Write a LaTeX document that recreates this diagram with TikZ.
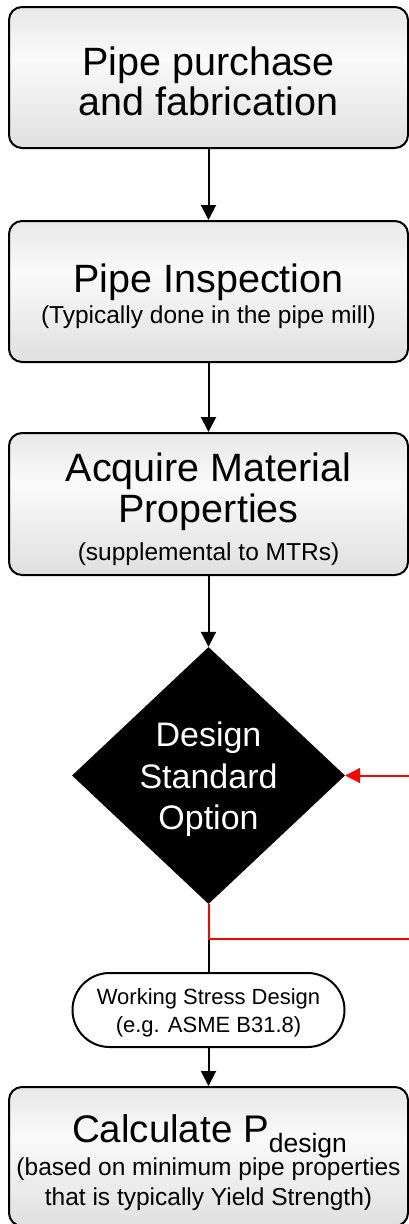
\documentclass[tikz,border=0pt]{standalone}
\usepackage{fontspec}
\setmainfont{Liberation Sans}
\usetikzlibrary{shapes.geometric,shapes.misc,arrows.meta}
\definecolor{boxtop}{HTML}{E8E8E8}
\definecolor{boxmid}{HTML}{FAFAFA}
\definecolor{boxbot}{HTML}{E0E0E0}
\definecolor{redline}{HTML}{FF0000}
\pgfdeclareverticalshading{boxshade}{100bp}{color(0bp)=(boxbot); color(25bp)=(boxbot); color(57bp)=(boxmid); color(75bp)=(boxtop); color(100bp)=(boxtop)}
\begin{document}
\begin{tikzpicture}[x=1pt,y=-1pt,
  box/.style={draw=black, line width=2pt, rounded corners=13pt,
    shading=boxshade,
    minimum width=399pt, inner sep=0pt},
  bigtxt/.style={anchor=base, inner sep=0pt, font=\fontsize{39.5}{40}\selectfont},
  subtxt/.style={anchor=base, inner sep=0pt, font=\fontsize{24.5}{26}\selectfont},
  dtxt/.style={anchor=base, inner sep=0pt, text=white, font=\fontsize{34}{36}\selectfont},
  stxt/.style={anchor=base, inner sep=0pt, font=\fontsize{22}{24}\selectfont},
  conn/.style={draw=black, line width=2pt},
  arr/.style={conn, -{Triangle[length=15pt,width=15pt]}},
  redconn/.style={draw=redline, line width=2pt},
  redarr/.style={redconn, -{Triangle[length=15pt,width=15pt]}}
]
\useasboundingbox (0,0) rectangle (409,1224);

% boxes
\node[box, minimum height=141pt] (b1) at (208.5,77.5) {};
\node[box, minimum height=141pt] (b2) at (208.5,291.5) {};
\node[box, minimum height=142pt] (b3) at (208.5,504) {};
\node[box, minimum height=139pt] (b4) at (208.5,1156.5) {};

% decision diamond
\node[diamond, fill=black, draw=none, inner sep=0pt,
      minimum width=273pt, minimum height=257pt] (d) at (208.5,775.5) {};

% terminator
\node[rounded rectangle, draw=black, fill=white, line width=2pt, inner sep=0pt,
      minimum width=272pt, minimum height=74pt] (s) at (208.5,1010) {};

% texts
\node[bigtxt] (t1a) at (208.5,75) {Pipe purchase};
\node[bigtxt] (t1b) at (208.5,115) {and fabrication};

\node[bigtxt] (t2a) at (208.5,292) {Pipe Inspection};
\node[subtxt] (t2b) at (208.5,323) {(Typically done in the pipe mill)};

\node[bigtxt] (t3a) at (208.5,481) {Acquire Material};
\node[bigtxt] (t3b) at (208.5,522) {Properties};
\node[subtxt] (t3c) at (208.5,560) {(supplemental to MTRs)};

\node[dtxt] (dt1) at (208.5,746) {Design};
\node[dtxt] (dt2) at (208.5,788) {Standard};
\node[dtxt] (dt3) at (208.5,829) {Option};

\node[stxt] (st1) at (208.5,1004) {Working Stress Design};
\node[stxt] (st2) at (208.5,1032) {(e.g. ASME B31.8)};

\node[bigtxt, font=\fontsize{38.5}{40}\selectfont] (t4a) at (209.5,1142)
  {Calculate P\raisebox{-10pt}{\fontsize{26.5}{28}\selectfont design}};
\node[subtxt] (t4b) at (208.5,1175) {(based on minimum pipe properties};
\node[subtxt] (t4c) at (208.5,1205) {that is typically Yield Strength)};

% connectors
\draw[arr] (b1.south) -- (b2.north);
\draw[arr] (b2.south) -- (b3.north);
\draw[arr] (b3.south) -- (d.north);
\draw[conn] (d.south) -- (s.north);
\draw[arr] (s.south) -- (b4.north);

\coordinate (rin) at (409,775.5);
\coordinate (rc) at (208.5,939);
\coordinate (rout) at (409,939);
\draw[redarr] (rin) -- (d.east);
\draw[redconn] (d.south) -- (rc) -- (rout);
\end{tikzpicture}
\end{document}
